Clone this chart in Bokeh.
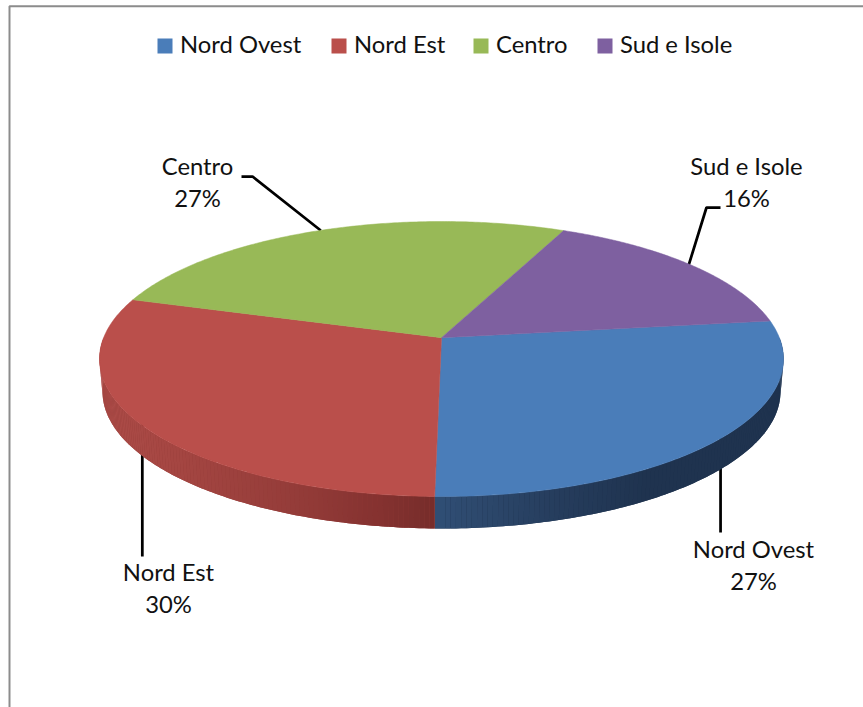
import numpy as np
from bokeh.plotting import figure
from bokeh.models import ColumnDataSource
from bokeh.embed import file_html
from bokeh.resources import INLINE
from bokeh.core.properties import value

categories = ["Nord Ovest", "Nord Est", "Centro", "Sud e Isole"]
shares = [27.3, 29.5, 27.0, 16.2]
colors = ["#4a7db9", "#ba4f4b", "#98b957", "#7e60a0"]
# wall shade stops: (screen x, colour) for the two visible walls
wall_stops = {
    "Nord Ovest": ([436, 470, 560, 650, 790], [(48, 79, 118), (46, 74, 110), (38, 61, 93), (31, 51, 79), (31, 51, 79)]),
    "Nord Est": ([100, 170, 300, 380, 436], [(172, 76, 72), (166, 71, 67), (148, 60, 57), (133, 50, 48), (118, 45, 43)]),
}
wall_base = {"Nord Ovest": "#1f334f", "Nord Est": "#943c39"}
wall_range = {"Nord Ovest": (None, 0.0), "Nord Est": (-180.0, None)}

START = 7.3
CX, CY, RX, RY = 441.0, 358.5, 342.0, 137.5
BCY, BRX, BRY = 391.0, 339.0, 137.0
K = 0.155


def unit(theta_deg):
    t = np.radians(theta_deg)
    x, y = np.cos(t), np.sin(t)
    d = 1 + K * y
    return x * np.sqrt(1 - K * K) / d, (y + K) / d


def top(theta):
    ux, uy = unit(theta)
    return CX + RX * ux, CY - RY * uy


def bottom(theta):
    ux, uy = unit(theta)
    return CX + BRX * ux, BCY - BRY * uy


spans = np.array(shares) / sum(shares) * 360
ends = START - np.cumsum(spans)
starts = ends + spans
mids = (starts + ends) / 2

p = figure(width=863, height=707, x_range=(0, 863), y_range=(707, 0),
           output_backend="svg", toolbar_location=None, min_border=0,
           background_fill_color="white", border_fill_color="white")
p.axis.visible = False
p.grid.visible = False
p.outline_line_color = None
p.styles = {"position": "absolute", "left": "0px", "top": "0px"}

# chart frame (runs off the right and bottom of the picture)
p.line([9, 9, 863], [707, 5.7, 5.7], line_color="#8c8c8c", line_width=2)

# leaders, from each slice's mid angle out to its label
label_pos = {
    "Nord Ovest": (753, 548.5),
    "Nord Est": (168, 571.5),
    "Centro": (197, 165.5),
    "Sud e Isole": (746, 165.5),
}
elbows = {
    "Nord Ovest": [(None, 532)],
    "Nord Est": [(None, 556)],
    "Centro": [(252, 176), (241, 176)],
    "Sud e Isole": [(706, 207), (720, 207)],
}
for cat, mid in zip(categories, mids):
    x0, y0 = top(mid)
    x0 = CX + (x0 - CX) * 0.994
    xs, ys = [x0], [y0]
    for ex, ey in elbows[cat]:
        xs.append(x0 if ex is None else ex)
        ys.append(ey)
    p.line(xs, ys, line_color="black", line_width=2.75)

# outer walls
for cat, s, e in zip(categories, starts, ends):
    if cat not in wall_stops:
        continue
    stops_x, stops_c = wall_stops[cat]
    lo, hi = wall_range[cat]
    lo = e if lo is None else lo
    hi = s if hi is None else hi
    th = np.linspace(lo, hi, 120)
    # solid underlay so the seams between the shaded strips do not show
    tx, ty = top(th)
    bx, by = bottom(th)
    p.patch(np.r_[tx, bx[::-1]], np.r_[ty, by[::-1]], fill_color=wall_base[cat], line_color=None)
    px, py, fill = [], [], []
    for a, b in zip(th[:-1], th[1:]):
        tx0, ty0 = top(a)
        tx1, ty1 = top(b)
        bx0, by0 = bottom(a)
        bx1, by1 = bottom(b)
        px.append([tx0, tx1, bx1, bx0])
        py.append([ty0, ty1, by1, by0])
        xm = (tx0 + tx1) / 2
        rgb = [int(np.interp(xm, stops_x, [c[i] for c in stops_c])) for i in range(3)]
        fill.append("#%02x%02x%02x" % tuple(rgb))
    src = ColumnDataSource(dict(xs=px, ys=py, fill=fill))
    p.patches("xs", "ys", source=src, fill_color="fill", line_color=None)

# top faces
for cat, s, e, col in zip(categories, starts, ends, colors):
    th = np.linspace(s, e, 160)
    ex, ey = top(th)
    vx, vy = CX, CY - RY * K
    p.patch(np.r_[vx, ex], np.r_[vy, ey], fill_color=col, line_color=col, line_width=0.5)

FONT = value("Lato")
SIZE = "23.8px"
# data labels
for cat, share in zip(categories, shares):
    lx, ly = label_pos[cat]
    p.text([lx, lx], [ly, ly + 32], text=[cat, "%d%%" % round(share)], text_align="center",
           text_baseline="middle", text_font=FONT, text_font_size=SIZE, text_color="#111111")

# legend
legend_sq = [157, 331, 473, 597]
for cat, col, lx in zip(categories, colors, legend_sq):
    p.rect([lx + 7.5], [45.5], width=15, height=15, fill_color=col, line_color=None)
    p.text([lx + 22.5], [43.5], text=[cat], text_align="left", text_baseline="middle",
           text_font=FONT, text_font_size=SIZE, text_color="#111111")

open("out.html", "w").write(file_html(p, INLINE))
